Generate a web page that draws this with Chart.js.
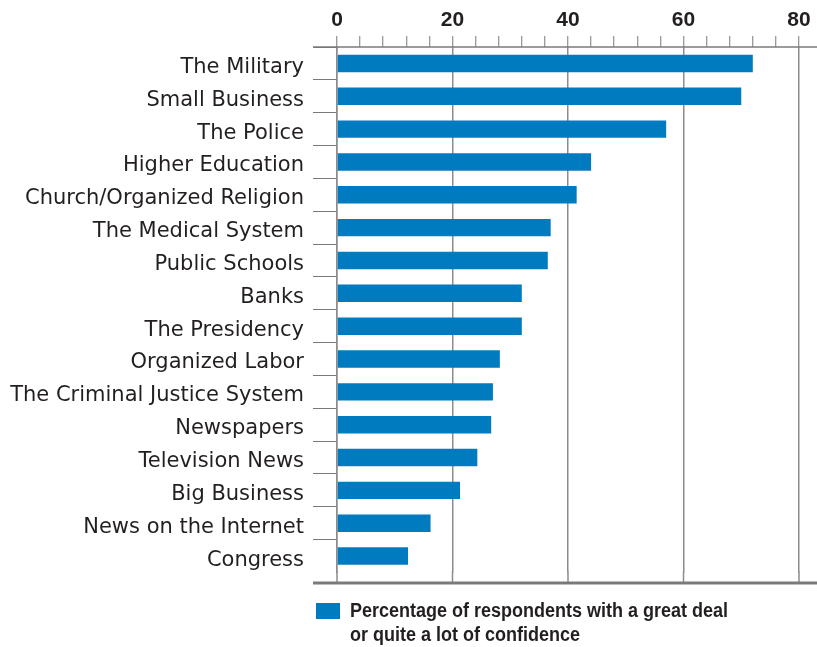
<!DOCTYPE html>
<html>
<head>
<meta charset="utf-8">
<script src="https://cdn.jsdelivr.net/npm/chart.js@4/dist/chart.umd.min.js"></script>
<style>
  body { margin: 0; background: #fff; }
  #wrap { position: relative; width: 817px; height: 647px; }
  #legend { position: absolute; left: 316px; top: 598px; font: bold 20px "Liberation Sans", sans-serif; color: #231f20; line-height: 24px; }
  #legend .sw { position: absolute; left: 0; top: 5px; width: 24px; height: 16px; background: #007bbf; }
  #legend .txt { margin-left: 34px; transform: scaleX(0.9); transform-origin: 0 0; white-space: nowrap; }
</style>
</head>
<body>
<div id="wrap">
  <div style="position:absolute;left:0;top:0;width:817px;height:605px"><canvas id="chart"></canvas></div>
  <div id="legend"><span class="sw"></span><div class="txt">Percentage of respondents with a great deal<br>or quite a lot of confidence</div></div>
</div>
<script>
const categories = ['The Military', 'Small Business', 'The Police', 'Higher Education',
  'Church/Organized Religion', 'The Medical System', 'Public Schools', 'Banks',
  'The Presidency', 'Organized Labor', 'The Criminal Justice System', 'Newspapers',
  'Television News', 'Big Business', 'News on the Internet', 'Congress'];
const confidence = [72, 70, 57, 44, 41.5, 37, 36.5, 32, 32, 28.2, 27, 26.7, 24.3, 21.3, 16.2, 12.3];
const xTicks = [0, 20, 40, 60, 80];

// long rules top and bottom; grid lines run on a little below the last bar
const rules = {
  id: 'rules',
  afterDraw(chart) {
    const { ctx, chartArea } = chart;
    const xs = chart.scales.x;
    const base = chartArea.bottom + 10.5;
    ctx.save();
    ctx.strokeStyle = '#8c8c8c';
    ctx.lineWidth = 1.5;
    xTicks.forEach(v => {
      const px = xs.getPixelForValue(v);
      ctx.beginPath();
      ctx.moveTo(px, chartArea.bottom - 1);
      ctx.lineTo(px, base);
      ctx.stroke();
    });
    ctx.strokeStyle = '#7a7a7a';
    ctx.beginPath();
    ctx.moveTo(chartArea.left - 24, chartArea.top);
    ctx.lineTo(chart.width, chartArea.top);
    ctx.stroke();
    ctx.lineWidth = 3;
    ctx.beginPath();
    ctx.moveTo(chartArea.left - 24, base);
    ctx.lineTo(chart.width, base);
    ctx.stroke();
    ctx.restore();
  }
};

new Chart(document.getElementById('chart'), {
  type: 'bar',
  data: {
    labels: categories,
    datasets: [{
      label: 'Percentage of respondents with a great deal or quite a lot of confidence',
      data: confidence,
      backgroundColor: '#007bbf',
      borderWidth: 0,
      barPercentage: 0.53,
      categoryPercentage: 1
    }]
  },
  plugins: [rules],
  options: {
    indexAxis: 'y',
    responsive: true,
    maintainAspectRatio: false,
    animation: false,
    layout: { padding: { left: 0, right: 18, top: 0, bottom: 32.5 } },
    plugins: {
      legend: { display: false },
      tooltip: { enabled: false }
    },
    scales: {
      x: {
        position: 'top',
        min: 0,
        max: 80,
        afterFit(scale) { scale.height = 47; },
        ticks: {
          stepSize: 4,
          autoSkip: false,
          maxRotation: 0,
          padding: 3,
          color: '#231f20',
          font: { family: 'Liberation Sans', weight: 'bold', size: 21 },
          callback: v => xTicks.includes(v) ? v : ''
        },
        grid: {
          color: ctx => xTicks.includes(ctx.tick.value) ? '#8c8c8c' : 'rgba(0,0,0,0)',
          lineWidth: 1.5,
          tickColor: '#7a7a7a',
          tickWidth: 1,
          tickLength: 11
        },
        border: { display: false }
      },
      y: {
        afterFit(scale) { scale.width = 337; },
        ticks: {
          padding: 9,
          labelOffset: 4,
          color: '#231f20',
          font: { family: 'DejaVu Sans', size: 21 }
        },
        grid: {
          drawOnChartArea: false,
          offset: true,
          color: ctx => ctx.tick ? '#7a7a7a' : 'rgba(0,0,0,0)',
          tickLength: 24
        },
        border: { display: true, color: '#8c8c8c', width: 1.5 }
      }
    }
  }
});
</script>
</body>
</html>
